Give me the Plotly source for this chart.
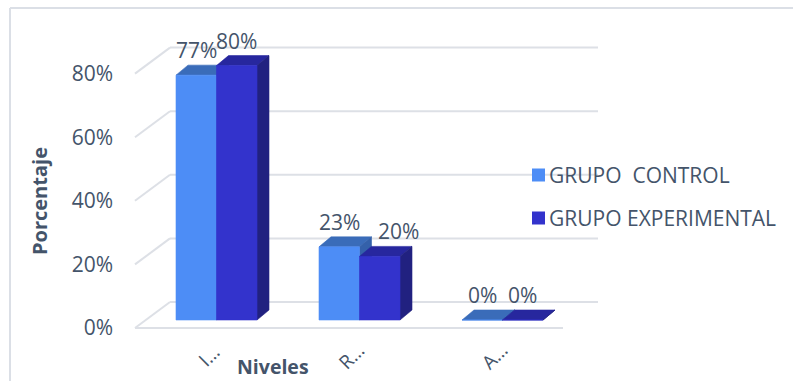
import plotly.graph_objects as go

# ---- data -------------------------------------------------------------
categories = ["I…", "R…", "A…"]
series_names = ["GRUPO\u00a0 CONTROL", "GRUPO EXPERIMENTAL"]
control = [77, 23, 0]
experimental = [80, 20, 0]
y_ticks = [0, 20, 40, 60, 80]
y_tick_labels = ["0%", "20%", "40%", "60%", "80%"]

# ---- canvas / projection ---------------------------------------------
W, H = 793, 381
CAT0_PX = 216.5      # pixel x of first category centre (bar front plane)
CAT_PX = 143.0       # pixels per category
FLOOR_PX = 328.0     # pixel y of 0 % on the front plane
PCT_PX = 3.18        # pixels per percent


def xd(px):
    return (px - CAT0_PX) / CAT_PX


def yd(py):
    return (FLOOR_PX - py) / PCT_PX


def xp(px):
    return px / W


def yp(py):
    return 1 - py / H


BAR_W = 40.5 / CAT_PX
BAR_DX = 12 / CAT_PX
BAR_DY = 10 / PCT_PX
BAR_BASE = 8 / PCT_PX
WALL_DX = 35 / CAT_PX
WALL_DY = 26 / PCT_PX
WALL_LEFT = xd(135)
WALL_RIGHT = xd(598)
FLOOR_RIGHT = xd(563)

TEXT = "#44546A"
GRID = "#dde0e6"
FONT = "Open Sans"

colors = {
    0: {"front": "#4D8DF6", "top": "#3A6CB9", "side": "#3461AA"},
    1: {"front": "#3333CC", "top": "#27279E", "side": "#212180"},
}
series_values = [control, experimental]
series_offsets = [-BAR_W, 0.0]


def faces(i, off, v):
    x0 = i + off
    x1 = x0 + BAR_W
    y0 = BAR_BASE
    y1 = BAR_BASE + v
    front = ([x0, x1, x1, x0, x0], [y0, y0, y1, y1, y0])
    top = ([x0, x1, x1 + BAR_DX, x0 + BAR_DX, x0],
           [y1, y1, y1 + BAR_DY, y1 + BAR_DY, y1])
    side = ([x1, x1 + BAR_DX, x1 + BAR_DX, x1, x1],
            [y0, y0 + BAR_DY, y1 + BAR_DY, y1, y0])
    return {"front": front, "top": top, "side": side}


fig = go.Figure()

# faces drawn back to front: per series top, side, front
for s, vals in enumerate(series_values):
    for face in ["top", "side", "front"]:
        xs, ys = [], []
        for i, v in enumerate(vals):
            fx, fy = faces(i, series_offsets[s], v)[face]
            xs += fx + [None]
            ys += fy + [None]
        c = colors[s][face]
        fig.add_trace(go.Scatter(
            x=xs, y=ys, mode="lines", fill="toself", fillcolor=c,
            line=dict(color=c, width=0.6), hoverinfo="skip",
            showlegend=False, name=series_names[s]))

# ---- 3D walls: back wall gridlines, left wall diagonals, floor edge ----
shapes = []
for t in y_ticks:
    shapes.append(dict(type="line", xref="x", yref="y", layer="below",
                       x0=WALL_LEFT + WALL_DX, x1=WALL_RIGHT,
                       y0=t + WALL_DY, y1=t + WALL_DY,
                       line=dict(color=GRID, width=2)))
    shapes.append(dict(type="line", xref="x", yref="y", layer="below",
                       x0=WALL_LEFT, x1=WALL_LEFT + WALL_DX,
                       y0=t, y1=t + WALL_DY,
                       line=dict(color=GRID, width=2)))
shapes.append(dict(type="line", xref="x", yref="y", layer="below",
                   x0=WALL_LEFT, x1=FLOOR_RIGHT, y0=0, y1=0,
                   line=dict(color=GRID, width=2)))

# chart frame
shapes.append(dict(type="line", xref="paper", yref="paper",
                   x0=xp(10), x1=xp(W), y0=yp(8), y1=yp(8),
                   line=dict(color="#dbdfe6", width=2)))
shapes.append(dict(type="line", xref="paper", yref="paper",
                   x0=xp(10), x1=xp(10), y0=yp(8), y1=yp(H),
                   line=dict(color="#dbdfe6", width=2)))

# legend swatches
legend_rows = [175, 218]
for s, row in enumerate(legend_rows):
    shapes.append(dict(type="rect", xref="paper", yref="paper",
                       x0=xp(532), x1=xp(545), y0=yp(row + 6.5), y1=yp(row - 6.5),
                       fillcolor=colors[s]["front"], line=dict(width=0)))

annotations = []

# value labels
label_nudge = {(1, 1): 19}
for s, vals in enumerate(series_values):
    for i, v in enumerate(vals):
        annotations.append(dict(
            x=i + series_offsets[s] + BAR_W / 2, y=BAR_BASE + v + BAR_DY,
            xref="x", yref="y", text=f"{v}%", showarrow=False,
            xanchor="center", yanchor="middle",
            yshift=15, xshift=label_nudge.get((i, s), 0),
            font=dict(family=FONT, size=21, color=TEXT)))

# category labels, rotated, centred just below each group
for i, cat in enumerate(categories):
    annotations.append(dict(
        x=i + xd(CAT0_PX - 8), y=yd(356), xref="x", yref="y",
        text=cat, showarrow=False, textangle=-45,
        xanchor="center", yanchor="middle",
        font=dict(family=FONT, size=19, color=TEXT)))

# legend text
for s, row in enumerate(legend_rows):
    annotations.append(dict(
        x=xp(547), y=yp(row), xref="paper", yref="paper",
        text=series_names[s], showarrow=False,
        xanchor="left", yanchor="middle",
        font=dict(family=FONT, size=21, color=TEXT)))

# axis titles
annotations.append(dict(
    x=xp(40), y=yp(201), xref="paper", yref="paper", text="<b>Porcentaje</b>",
    showarrow=False, textangle=-90, xanchor="center", yanchor="middle",
    font=dict(family=FONT, size=20, color=TEXT)))
annotations.append(dict(
    x=xp(273), y=yp(366), xref="paper", yref="paper", text="<b>Niveles</b>",
    showarrow=False, xanchor="center", yanchor="middle",
    font=dict(family=FONT, size=19.5, color=TEXT)))

fig.update_layout(
    width=W, height=H,
    margin=dict(l=0, r=0, t=0, b=0),
    paper_bgcolor="white", plot_bgcolor="white",
    showlegend=False,
    shapes=shapes, annotations=annotations,
    xaxis=dict(range=[xd(0), xd(W)], visible=False, fixedrange=True),
    yaxis=dict(range=[yd(H), yd(0)], anchor="free", position=xp(135),
               tickvals=y_ticks, ticktext=y_tick_labels, ticks="",
               ticklabelstandoff=22, showgrid=False, zeroline=False,
               showline=False, fixedrange=True,
               tickfont=dict(family=FONT, size=21, color=TEXT)),
)

fig.write_html("out.html")
